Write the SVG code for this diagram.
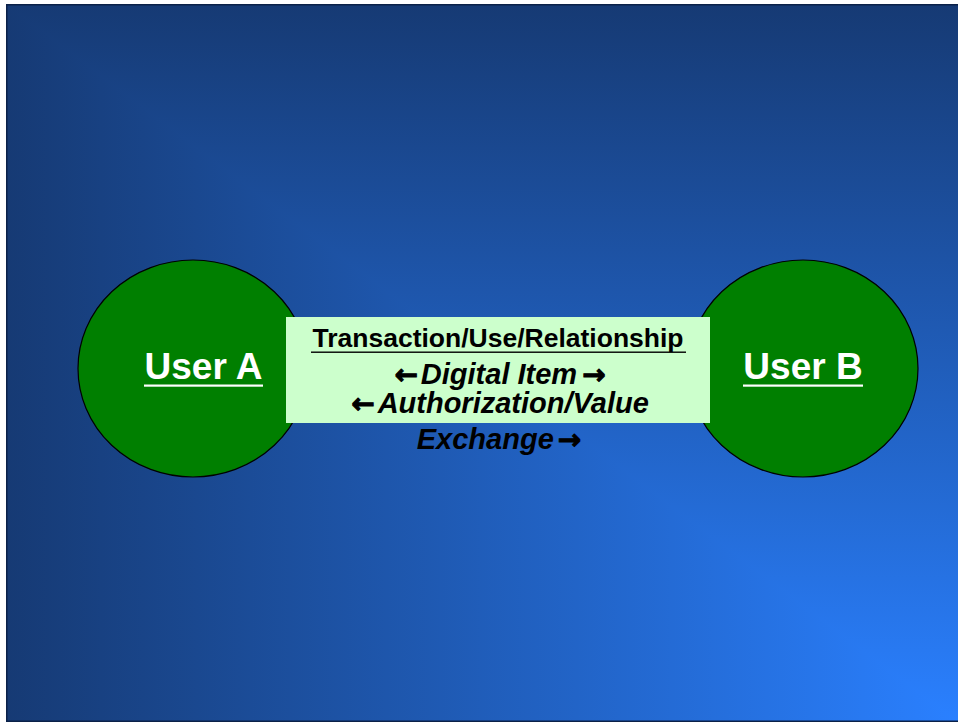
<svg xmlns="http://www.w3.org/2000/svg" width="958" height="724" viewBox="0 0 958 724">
  <defs>
    <!-- corner gradient: horizontal and vertical ramps combined with darken (per-channel min) -->
    <linearGradient id="rampX" x1="6" y1="0" x2="958" y2="0" gradientUnits="userSpaceOnUse">
      <stop offset="0" stop-color="#163a74"/>
      <stop offset="1" stop-color="#2a80ff"/>
    </linearGradient>
    <linearGradient id="rampY" x1="0" y1="4" x2="0" y2="722" gradientUnits="userSpaceOnUse">
      <stop offset="0" stop-color="#163a74"/>
      <stop offset="1" stop-color="#2a80ff"/>
    </linearGradient>
    <style>
      .user { fill: #007f00; stroke: #000; stroke-width: 1.2; }
      .userLabel { font-family: "Liberation Sans", Arial, sans-serif; font-weight: bold; font-size: 37px; fill: #fff; text-anchor: middle; }
      .head { font-family: "Liberation Sans", Arial, sans-serif; font-weight: bold; font-size: 26.5px; fill: #000; text-anchor: middle; }
      .flow { font-family: "Liberation Sans", Arial, sans-serif; font-weight: bold; font-style: italic; font-size: 29px; fill: #000; text-anchor: middle; }
      .arrow { font-family: "DejaVu Sans", sans-serif; font-style: normal; font-weight: bold; font-size: 28px; stroke: #000; stroke-width: 1; }
    </style>
  </defs>

  <rect width="958" height="724" fill="#fff"/>

  <!-- slide background -->
  <g id="background" style="isolation:isolate">
    <rect x="6" y="4" width="952" height="718" fill="url(#rampX)"/>
    <rect x="6" y="4" width="952" height="718" fill="url(#rampY)" style="mix-blend-mode:darken"/>
  </g>
  <rect x="6.75" y="4.75" width="960" height="716.5" fill="none" stroke="#0b2148" stroke-width="1.5"/>

  <!-- users -->
  <g id="userA">
    <ellipse class="user" cx="193" cy="368.5" rx="115" ry="108.5"/>
    <text class="userLabel" x="203.5" y="379">User A</text>
    <rect x="144" y="384.5" width="119" height="2.2" fill="#fff"/>
  </g>
  <g id="userB">
    <ellipse class="user" cx="803" cy="368.5" rx="115" ry="108.5"/>
    <text class="userLabel" x="803" y="379">User B</text>
    <rect x="743" y="384.5" width="120" height="2.2" fill="#fff"/>
  </g>

  <!-- relationship box between the users -->
  <g id="connectors">
    <g id="exchange">
      <rect x="286" y="317" width="424" height="106" fill="#ccffcc"/>
      <text class="head" x="498" y="347">Transaction/Use/Relationship</text>
      <rect x="311" y="351.5" width="375" height="1.4" fill="#000"/>
      <text class="flow" x="500" y="384"><tspan class="arrow">←</tspan><tspan dx="3">Digital Item</tspan><tspan class="arrow" dx="5">→</tspan></text>
      <text class="flow" x="500" y="413"><tspan class="arrow">←</tspan><tspan dx="3">Authorization/Value</tspan></text>
      <text class="flow" x="499" y="449">Exchange<tspan class="arrow" dx="4">→</tspan></text>
    </g>
  </g>
</svg>
